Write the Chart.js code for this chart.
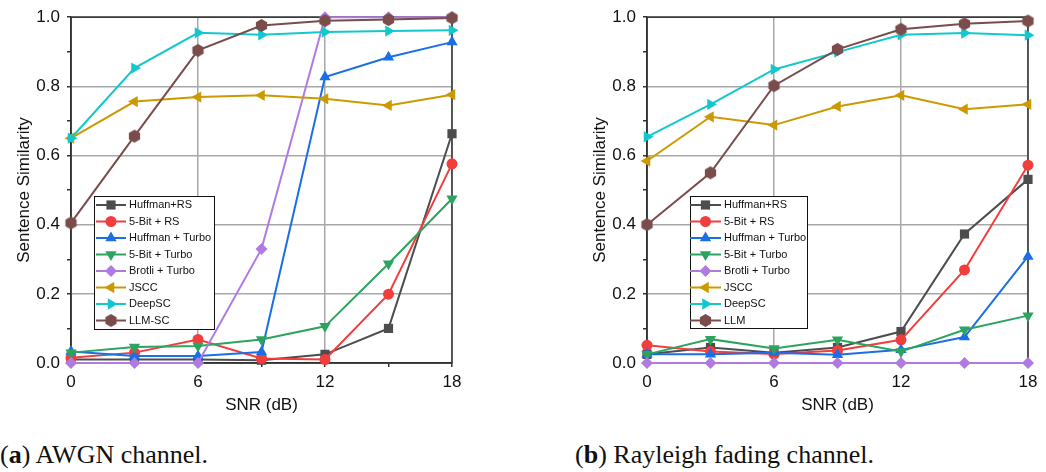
<!DOCTYPE html>
<html>
<head>
<meta charset="utf-8">
<script src="https://cdn.jsdelivr.net/npm/chart.js@4.4.1/dist/chart.umd.min.js"></script>
<style>
  body { margin: 0; background: #fff; width: 1046px; height: 472px; position: relative; overflow: hidden; }
  .panel { position: absolute; top: 0; width: 470px; height: 420px; }
  .cap { position: absolute; top: 440px; font-family: "Liberation Serif", serif; font-size: 26px; color: #111; white-space: nowrap; }
</style>
</head>
<body>
<div class="panel" style="left:0"><canvas id="awgn"></canvas></div>
<div class="panel" style="left:576px"><canvas id="rayleigh"></canvas></div>
<div class="cap" style="left:0">(<b>a</b>) AWGN channel.</div>
<div class="cap" style="left:575px">(<b>b</b>) Rayleigh fading channel.</div>
<script>
// x values (dB)
const snr = [0, 3, 6, 9, 12, 15, 18];

const namesA = ['Huffman+RS', '5-Bit + RS', 'Huffman + Turbo', '5-Bit + Turbo', 'Brotli + Turbo', 'JSCC', 'DeepSC', 'LLM-SC'];
const namesB = ['Huffman+RS', '5-Bit + RS', 'Huffman + Turbo', '5-Bit + Turbo', 'Brotli + Turbo', 'JSCC', 'DeepSC', 'LLM'];

// (a) AWGN
const huffRS_a    = [0.010, 0.010, 0.010, 0.008, 0.025, 0.100, 0.663];
const bit5RS_a    = [0.015, 0.030, 0.068, 0.013, 0.010, 0.199, 0.576];
const huffTurbo_a = [0.033, 0.020, 0.020, 0.032, 0.827, 0.884, 0.928];
const bit5Turbo_a = [0.030, 0.046, 0.049, 0.068, 0.106, 0.287, 0.475];
const brotli_a    = [0.000, 0.000, 0.000, 0.330, 1.000, 1.000, 1.000];
const jscc_a      = [0.650, 0.756, 0.769, 0.774, 0.764, 0.745, 0.776];
const deepsc_a    = [0.650, 0.853, 0.955, 0.949, 0.957, 0.960, 0.962];
const llm_a       = [0.405, 0.656, 0.904, 0.976, 0.990, 0.993, 0.998];

// (b) Rayleigh fading
const huffRS_b    = [0.025, 0.045, 0.030, 0.045, 0.091, 0.373, 0.531];
const bit5RS_b    = [0.051, 0.033, 0.026, 0.036, 0.067, 0.269, 0.572];
const huffTurbo_b = [0.025, 0.025, 0.030, 0.024, 0.038, 0.075, 0.308];
const bit5Turbo_b = [0.025, 0.069, 0.042, 0.067, 0.033, 0.096, 0.137];
const brotli_b    = [0.000, 0.000, 0.000, 0.000, 0.000, 0.000, 0.000];
const jscc_b      = [0.584, 0.712, 0.688, 0.742, 0.774, 0.734, 0.748];
const deepsc_b    = [0.654, 0.748, 0.849, 0.899, 0.949, 0.954, 0.948];
const llm_b       = [0.400, 0.550, 0.802, 0.907, 0.965, 0.981, 0.989];

const colors = ['#4d4d4d', '#f23d3d', '#1a6fe6', '#2ca35f', '#b07be0', '#cc9a00', '#12c8cc', '#7a4c4c'];

function hexagon(color, r) {
  const c = document.createElement('canvas');
  c.width = c.height = 2 * r + 2;
  const g = c.getContext('2d');
  g.fillStyle = color;
  g.beginPath();
  for (let i = 0; i < 6; i++) {
    const a = Math.PI / 6 + i * Math.PI / 3;
    const px = r + 1 + r * Math.cos(a), py = r + 1 + r * Math.sin(a);
    i ? g.lineTo(px, py) : g.moveTo(px, py);
  }
  g.closePath();
  g.fill();
  return c;
}

const markers = [
  {pointStyle: 'rect', pointRadius: 6.5, pointRotation: 0},
  {pointStyle: 'circle', pointRadius: 5.5, pointRotation: 0},
  {pointStyle: 'triangle', pointRadius: 6.5, pointRotation: 0},
  {pointStyle: 'triangle', pointRadius: 6.5, pointRotation: 180},
  {pointStyle: 'rectRot', pointRadius: 6, pointRotation: 0},
  {pointStyle: 'triangle', pointRadius: 6.5, pointRotation: 270},
  {pointStyle: 'triangle', pointRadius: 6.5, pointRotation: 90},
  {pointStyle: hexagon('#7a4c4c', 6.5), pointRadius: 6.5, pointRotation: 0}
];

Chart.defaults.font.family = "'Liberation Sans', Arial, sans-serif";
Chart.defaults.color = '#111';

// frame round the plot area (top and right edges)
const frame = {
  id: 'frame',
  beforeDatasetsDraw(chart) {
    const {ctx, chartArea: a} = chart;
    ctx.save();
    ctx.strokeStyle = '#333';
    ctx.lineWidth = 1.5;
    ctx.strokeRect(a.left, a.top, a.right - a.left, a.bottom - a.top);
    ctx.restore();
  }
};

// legend box drawn inside the plot area
const insideLegend = {
  id: 'insideLegend',
  afterDatasetsDraw(chart, args, o) {
    const {ctx, chartArea} = chart;
    const x0 = Math.round(chartArea.left + o.dx), y0 = Math.round(chartArea.top + o.dy);
    ctx.save();
    ctx.fillStyle = '#fff';
    ctx.fillRect(x0, y0, o.w, o.h);
    ctx.strokeStyle = '#111';
    ctx.lineWidth = 1;
    ctx.strokeRect(x0 + 0.5, y0 + 0.5, o.w, o.h);
    ctx.font = "11px 'Liberation Sans', Arial, sans-serif";
    ctx.textBaseline = 'middle';
    chart.data.datasets.forEach((ds, i) => {
      const y = y0 + o.first + i * o.step;
      ctx.strokeStyle = ds.borderColor;
      ctx.lineWidth = 2;
      ctx.beginPath();
      ctx.moveTo(x0 + o.lx, y);
      ctx.lineTo(x0 + o.lx + o.lineLen, y);
      ctx.stroke();
      ctx.fillStyle = ds.backgroundColor;
      Chart.helpers.drawPoint(ctx, {pointStyle: ds.pointStyle, rotation: ds.pointRotation, radius: ds.pointRadius, borderWidth: 0},
        x0 + o.lx + o.lineLen / 2, y);
      ctx.fillStyle = '#111';
      ctx.fillText(ds.label, x0 + o.tx, y);
    });
    ctx.restore();
  }
};

function makeChart(id, names, series, legend) {
  const datasets = series.map((vals, i) => ({
    label: names[i],
    data: snr.map((x, j) => ({x: x, y: vals[j]})),
    borderColor: colors[i],
    backgroundColor: colors[i],
    borderWidth: 2,
    pointBorderWidth: 0,
    pointHoverRadius: markers[i].pointRadius,
    ...markers[i],
    clip: false,
    order: series.length - i
  }));
  return new Chart(document.getElementById(id), {
    type: 'line',
    data: {datasets},
    plugins: [frame, insideLegend],
    options: {
      responsive: true,
      maintainAspectRatio: false,
      animation: false,
      layout: {padding: {top: 17, right: 18, left: 0, bottom: 0}},
      plugins: {
        legend: {display: false},
        tooltip: {enabled: false},
        insideLegend: legend
      },
      scales: {
        x: {
          type: 'linear', min: 0, max: 18,
          afterFit: s => { s.height = 57; },
          ticks: {stepSize: 3, autoSkip: false, maxRotation: 0, padding: 5, font: {size: 17},
            callback: v => (v % 6 === 0 ? v : '')},
          grid: {color: c => (c.tick && c.tick.value % 6 === 0 ? '#a8a8a8' : 'rgba(0,0,0,0)'),
            lineWidth: 1.5, tickLength: 4, tickColor: '#333', tickWidth: 1.5},
          border: {color: '#333', width: 1.5},
          title: {display: true, text: 'SNR (dB)', font: {size: 17}, padding: {top: 2, bottom: 4}}
        },
        y: {
          type: 'linear', min: 0, max: 1,
          afterFit: s => { s.width = 71; },
          ticks: {stepSize: 0.1, autoSkip: false, padding: 7, font: {size: 17},
            callback: v => (Math.round(v * 10) % 2 === 0 ? v.toFixed(1) : '')},
          grid: {color: c => (c.tick && Math.round(c.tick.value * 10) % 2 === 0 ? '#a8a8a8' : 'rgba(0,0,0,0)'),
            lineWidth: 1.5, tickLength: 4, tickColor: '#333', tickWidth: 1.5},
          border: {color: '#333', width: 1.5},
          title: {display: true, text: 'Sentence Similarity', font: {size: 17}, padding: {top: 14, bottom: 0}}
        }
      }
    }
  });
}

makeChart('awgn', namesA,
  [huffRS_a, bit5RS_a, huffTurbo_a, bit5Turbo_a, brotli_a, jscc_a, deepsc_a, llm_a],
  {dx: 23, dy: 179, w: 120, h: 133, first: 9, step: 16.5, lx: 2, lineLen: 30, tx: 35});

makeChart('rayleigh', namesB,
  [huffRS_b, bit5RS_b, huffTurbo_b, bit5Turbo_b, brotli_b, jscc_b, deepsc_b, llm_b],
  {dx: 43, dy: 179, w: 117, h: 132, first: 9, step: 16.5, lx: 0, lineLen: 31, tx: 34});
</script>
</body>
</html>
